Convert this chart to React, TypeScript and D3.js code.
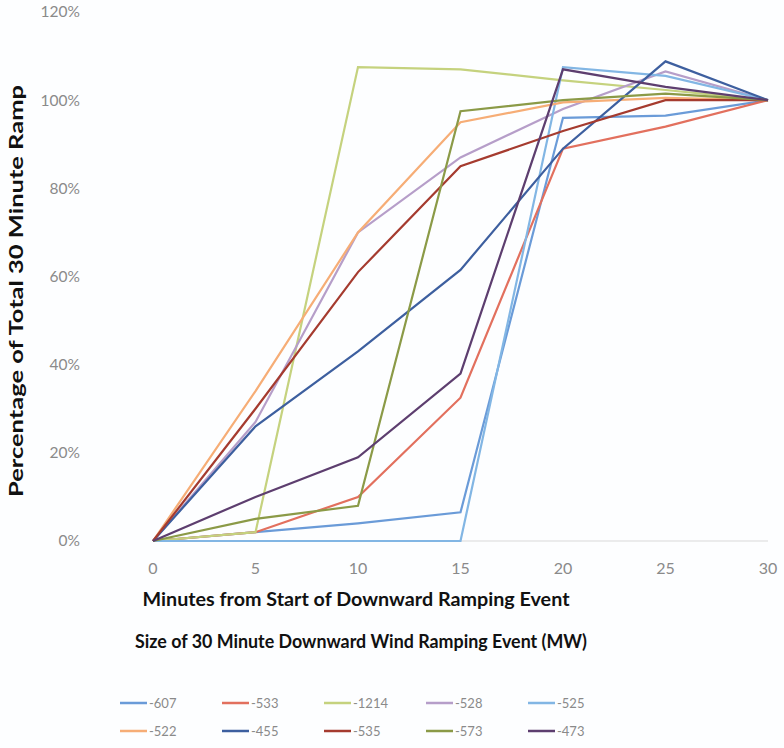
import React from "react";
import * as d3 from "d3";

const minutes = [0, 5, 10, 15, 20, 25, 30];
const seriesNames = ["-607", "-533", "-1214", "-528", "-525", "-522", "-455", "-535", "-573", "-473"];
const s607 = [0, 2, 4, 6.5, 96, 96.5, 100];
const s533 = [0, 2, 10, 32.5, 89, 94, 100];
const s1214 = [0, 2, 107.5, 107, 104.5, 102.3, 100];
const s528 = [0, 27, 70, 87, 98, 106.5, 100];
const s525 = [0, 0, 0, 0, 107.5, 105.5, 100];
const s522 = [0, 34, 70, 95, 99.5, 100.5, 100];
const s455 = [0, 26, 43, 61.5, 89, 108.8, 100];
const s535 = [0, 30, 61, 85, 93, 100, 100];
const s573 = [0, 5, 8, 97.5, 100, 101.5, 100];
const s473 = [0, 10, 19, 38, 107, 103, 100];
const seriesValues = [s607, s533, s1214, s528, s525, s522, s455, s535, s573, s473];
const colors = ["#6a9bd8", "#e2705e", "#c5d27e", "#b69ec9", "#82b6e4", "#f6ad76", "#3d5f9f", "#a53b2f", "#8b9a47", "#5d3e6f"];
const yTicks = [0, 20, 40, 60, 80, 100, 120];
const xTicks = [0, 5, 10, 15, 20, 25, 30];

const font = "Lato, 'Open Sans', sans-serif";

export default function App() {
  const W = 784, H = 748;
  const x = d3.scaleLinear().domain([0, 30]).range([153, 768]);
  const y = d3.scaleLinear().domain([0, 120]).range([541, 12]);
  const line = d3.line<number>().x((_, i) => x(minutes[i])).y((v) => y(v));

  return (
    <svg width={W} height={H} style={{ position: "absolute", left: 0, top: 0, background: "#fff" }}>
      <rect x={0} y={0} width={W} height={H} fill="#fdfeff" />
      <line x1={x(0)} x2={x(30)} y1={y(0)} y2={y(0)} stroke="#d9d9d9" strokeWidth={1} />
      {yTicks.map((t) => (
        <text key={"y" + t} x={80} y={y(t)} dy="0.35em" textAnchor="end" fontFamily={font} fontSize={15.5} fill="#8a8a8a">
          {t}%
        </text>
      ))}
      {xTicks.map((t) => (
        <text key={"x" + t} x={x(t)} y={568} dy="0.35em" textAnchor="middle" fontFamily={font} fontSize={16} fill="#8a8a8a">
          {t}
        </text>
      ))}
      {seriesValues.map((vals, i) => (
        <path key={seriesNames[i]} d={line(vals) || ""} fill="none" stroke={colors[i]} strokeWidth={2.2} strokeLinejoin="miter" />
      ))}
      <text x={17} y={291} transform="rotate(-90 17 291)" dy="0.35em" textAnchor="middle" fontFamily={font} fontWeight="bold" fontSize={18} fill="#111" textLength={412} lengthAdjust="spacingAndGlyphs">
        Percentage of Total 30 Minute Ramp
      </text>
      <text x={356} y={600} dy="0.35em" textAnchor="middle" fontFamily={font} fontWeight="bold" fontSize={18} fill="#111" textLength={427} lengthAdjust="spacingAndGlyphs">
        Minutes from Start of Downward Ramping Event
      </text>
      <text x={361} y={642} dy="0.35em" textAnchor="middle" fontFamily={font} fontWeight="bold" fontSize={18} fill="#111" textLength={452} lengthAdjust="spacingAndGlyphs">
        Size of 30 Minute Downward Wind Ramping Event (MW)
      </text>
      {seriesNames.map((name, i) => {
        const col = i % 5;
        const row = Math.floor(i / 5);
        const lx = 120 + col * 102;
        const ly = 703 + row * 28;
        return (
          <g key={"leg" + name}>
            <line x1={lx} x2={lx + 27} y1={ly} y2={ly} stroke={colors[i]} strokeWidth={2.5} />
            <text x={lx + 29} y={ly} dy="0.35em" fontFamily={font} fontSize={13} fill="#8a8a8a">
              {name}
            </text>
          </g>
        );
      })}
    </svg>
  );
}
